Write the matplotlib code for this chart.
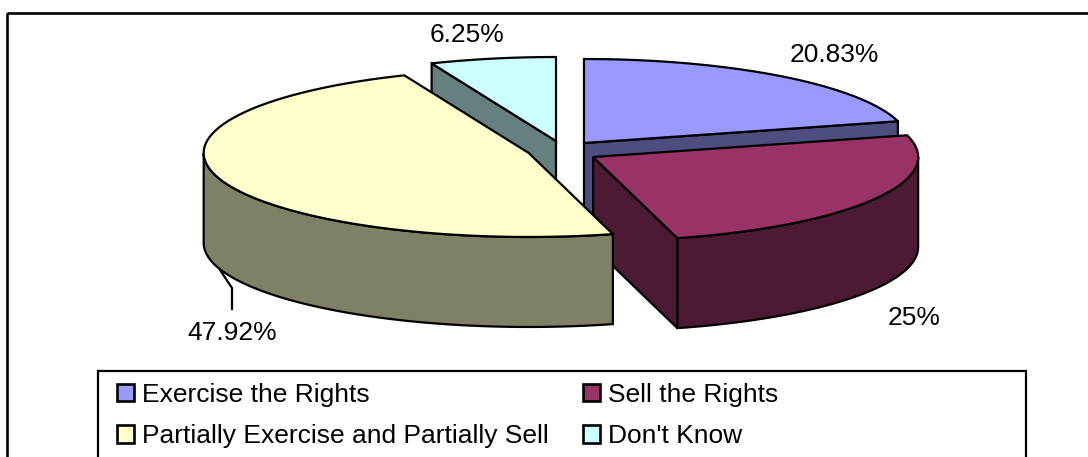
import numpy as np
import matplotlib
matplotlib.use('Agg')
import matplotlib.pyplot as plt
from matplotlib.patches import Polygon, Rectangle, Patch

plt.rcParams['font.family'] = 'Liberation Sans'

labels = ['Exercise the Rights', 'Sell the Rights',
          'Partially Exercise and Partially Sell', "Don't Know"]
shares = [20.83, 25, 47.92, 6.25]
pct_text = ['20.83%', '25%', '47.92%', '6.25%']

top_color = ['#9999FF', '#993366', '#FFFFCC', '#CCFFFF']
side_color = ['#4D4D80', '#4D1A33', '#808066', '#668080']

# explosion of each slice, as fraction of the radii (the 3d view is not even)
explode_x = [0.096, 0.10, 0.118, 0.142]
explode_y = [0.105, 0.167, 0.11, 0.109]

# pie geometry, in pixels
cx, cy = 565, 150
rx, ry = 325, 84
depth = 90
lw = 1.6

fig = plt.figure(figsize=(10.88, 4.57), dpi=100)
ax = fig.add_axes([0, 0, 1, 1])
ax.set_xlim(0, 1088)
ax.set_ylim(457, 0)
ax.axis('off')

edges = np.cumsum([0] + shares) / np.sum(shares) * 360


def rim(a0, a1, ox, oy):
    t = np.radians(np.linspace(a0, a1, 120))
    return np.column_stack([ox + rx * np.sin(t), oy - ry * np.cos(t)])


def poly(pts, color, z):
    ax.add_patch(Polygon(pts, closed=True, fc=color, ec='black', lw=lw,
                         joinstyle='miter', zorder=z))


# back slices first, so the front ones cover them
for z, i in enumerate([3, 0, 1, 2]):
    a0, a1 = edges[i], edges[i + 1]
    mid = np.radians((a0 + a1) / 2)
    ox = cx + explode_x[i] * rx * np.sin(mid)
    oy = cy - explode_y[i] * ry * np.cos(mid)
    arc = rim(a0, a1, ox, oy)
    apex = np.array([[ox, oy]])
    down = np.array([0, depth])

    # cut face, partial slice hides its own
    if i != 2:
        end = arc[:1] if i == 3 else arc[-1:]
        face = np.vstack([apex, end, end + down, apex + down])
        poly(face, side_color[i], z * 3)

    # outer wall, only the front half of the ellipse shows
    lo, hi = max(a0, 90), min(a1, 270)
    if hi > lo:
        wall = rim(lo, hi, ox, oy)
        poly(np.vstack([wall, wall[::-1] + down]), side_color[i], z * 3 + 1)

    poly(np.vstack([apex, arc]), top_color[i], z * 3 + 2)

# value labels
ax.text(834, 55, pct_text[0], fontsize=19, ha='center', va='center', zorder=20)
ax.text(914, 318, pct_text[1], fontsize=19, ha='center', va='center', zorder=20)
ax.text(232, 333, pct_text[2], fontsize=19, ha='center', va='center', zorder=20)
ax.text(467, 35, pct_text[3], fontsize=19, ha='center', va='center', zorder=20)
ax.plot([220, 232, 232], [270, 288, 309], color='black', lw=lw, zorder=5)

# chart frame, cut off by the image edge
ax.add_patch(Rectangle((7, 13), 1200, 600, fc='none', ec='black', lw=1.9, zorder=0))

# legend box runs past the bottom too
ax.add_patch(Rectangle((98, 371), 928, 200, fc='white', ec='black', lw=1.6, zorder=21))
handles = [Patch(fc=top_color[i], ec='black', lw=1.9) for i in [0, 2, 1, 3]]
leg_labels = [labels[i] for i in [0, 2, 1, 3]]
ax.legend(handles, leg_labels, ncol=2, loc='upper left',
          bbox_to_anchor=(117, 383), bbox_transform=ax.transData,
          frameon=False, fontsize=19, borderpad=0, borderaxespad=0,
          handlelength=0.66, handleheight=0.64, handletextpad=0.3,
          labelspacing=0.66, columnspacing=1.27).set_zorder(22)

fig.savefig('out.png', dpi=100)
